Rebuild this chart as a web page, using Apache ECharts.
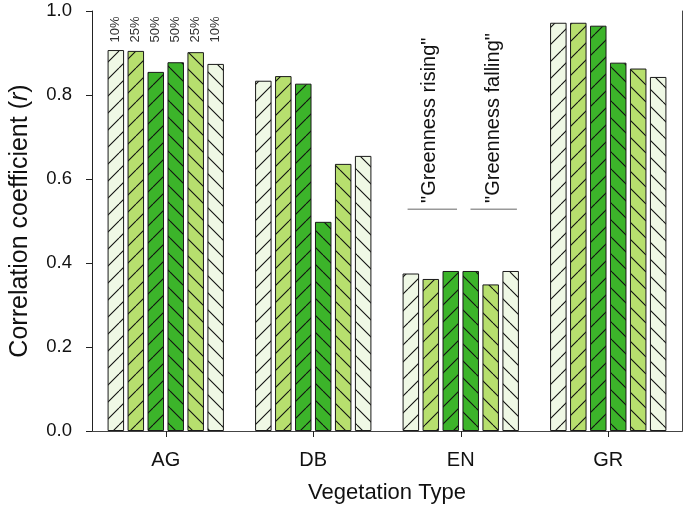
<!DOCTYPE html>
<html>
<head>
<meta charset="utf-8">
<script src="https://cdn.jsdelivr.net/npm/echarts/dist/echarts.min.js"></script>
<style>html,body{margin:0;padding:0;background:#fff}#c{width:685px;height:513px}</style>
</head>
<body>
<div id="c"></div>
<script>
// ---- data ----
var categories = ['AG', 'DB', 'EN', 'GR'];
var seriesNames = ['10% rising', '25% rising', '50% rising', '50% falling', '25% falling', '10% falling'];
var pctLabels = ['10%', '25%', '50%', '50%', '25%', '10%'];
var rising10 = [0.907, 0.834, 0.375, 0.972];
var rising25 = [0.905, 0.845, 0.362, 0.972];
var rising50 = [0.855, 0.827, 0.381, 0.965];
var falling50 = [0.878, 0.498, 0.381, 0.877];
var falling25 = [0.902, 0.636, 0.349, 0.863];
var falling10 = [0.874, 0.655, 0.381, 0.843];
var yTicks = [0, 0.2, 0.4, 0.6, 0.8, 1.0];
var annotations = ['"Greenness rising"', '"Greenness falling"'];

var seriesValues = [rising10, rising25, rising50, falling50, falling25, falling10];
var PALE = '#eff8e5', MID = '#b7df6e', DARK = '#3cb42a';
var fills = [PALE, MID, DARK, DARK, MID, PALE];
var dirs = ['/', '/', '/', '\\', '\\', '\\'];

function hatch(bg, dir) {
  var s = 17;
  var c = document.createElement('canvas');
  c.width = s; c.height = s;
  var ctx = c.getContext('2d');
  ctx.fillStyle = bg;
  ctx.fillRect(0, 0, s, s);
  ctx.strokeStyle = '#111';
  ctx.lineWidth = 1.1;
  ctx.beginPath();
  for (var k = -1; k <= 1; k++) {
    if (dir === '/') { ctx.moveTo(k * s, s); ctx.lineTo(k * s + s, 0); }
    else { ctx.moveTo(k * s, 0); ctx.lineTo(k * s + s, s); }
  }
  ctx.stroke();
  return { image: c, repeat: 'repeat' };
}

var chart = echarts.init(document.getElementById('c'));
var FONT = 'Liberation Sans, Arial, sans-serif';

var series = seriesValues.map(function (vals, i) {
  return {
    name: seriesNames[i],
    type: 'bar',
    xAxisIndex: 0,
    yAxisIndex: 0,
    data: vals,
    barWidth: 16.5,
    barGap: '21%',
    itemStyle: { color: hatch(fills[i], dirs[i]), borderColor: '#1a1a1a', borderWidth: 1 },
    emphasis: { disabled: true },
    animation: false
  };
});

chart.setOption({
  animation: false,
  grid: { left: 82, right: 3, top: 11, bottom: 82 },
  xAxis: [{
    type: 'category', data: categories, position: 'bottom',
    axisLine: { show: true, lineStyle: { color: '#222', width: 1 } },
    axisTick: { show: true, alignWithLabel: true, length: 6, lineStyle: { color: '#222' } },
    axisLabel: { fontSize: 20, color: '#111', margin: 19, fontFamily: FONT },
    name: 'Vegetation Type', nameLocation: 'middle', nameGap: 51,
    nameTextStyle: { fontSize: 22, color: '#111', fontFamily: FONT }
  }, {
    type: 'category', data: categories, position: 'top',
    axisLine: { show: true, lineStyle: { color: '#444', width: 1 } },
    axisTick: { show: false }, axisLabel: { show: false }
  }],
  yAxis: [{
    type: 'value', min: 0, max: 1, interval: 0.2, position: 'left',
    axisLine: { show: true, lineStyle: { color: '#222', width: 1 } },
    axisTick: { show: true, length: 6, lineStyle: { color: '#222' } },
    splitLine: { show: false },
    axisLabel: { fontSize: 18.5, color: '#111', margin: 20, fontFamily: FONT,
      formatter: function (v) { return v.toFixed(1); } },
    name: 'Correlation coefficient ({i|r})', nameLocation: 'middle', nameGap: 59,
    nameTextStyle: { fontSize: 25, color: '#111', fontFamily: FONT,
      rich: { i: { fontSize: 25, fontStyle: 'italic', color: '#111', fontFamily: FONT } } }
  }, {
    type: 'value', min: 0, max: 1, interval: 0.2, position: 'right',
    axisLine: { show: true, lineStyle: { color: '#444', width: 1 } },
    axisTick: { show: false }, axisLabel: { show: false }, splitLine: { show: false }
  }],
  series: series
});

// ---- annotations positioned from the laid-out bars ----
function barLayout(si, ci) {
  return chart.getModel().getSeriesByIndex(si).getData().getItemLayout(ci);
}
var graphics = [];
var yPct = chart.convertToPixel({ yAxisIndex: 0 }, 0.925);
for (var i = 0; i < 6; i++) {
  var L = barLayout(i, 0);
  graphics.push({
    type: 'text', x: L.x + L.width / 2, y: yPct, rotation: Math.PI / 2,
    style: { text: pctLabels[i], fontSize: 13, fill: '#333', fontFamily: FONT, align: 'left', verticalAlign: 'middle' },
    silent: true
  });
}
var en = categories.indexOf('EN');
var yTxt = chart.convertToPixel({ yAxisIndex: 0 }, 0.543);
var yLine = chart.convertToPixel({ yAxisIndex: 0 }, 0.528);
var groups = [[0, 2], [3, 5]];
groups.forEach(function (g, k) {
  var a = barLayout(g[0], en), b = barLayout(g[1], en);
  var mid = barLayout(g[0] + 1, en);
  graphics.push({
    type: 'text', x: mid.x + mid.width / 2 + (k === 0 ? -1 : 3), y: yTxt, rotation: Math.PI / 2,
    style: { text: annotations[k], fontSize: 20, fill: '#111', fontFamily: FONT, align: 'left', verticalAlign: 'middle' },
    silent: true
  });
  graphics.push({
    type: 'line',
    shape: { x1: a.x + (k === 0 ? 5 : 8), y1: yLine, x2: b.x + b.width - 2, y2: yLine },
    style: { stroke: '#999', lineWidth: 1.5 },
    silent: true
  });
});
chart.setOption({ graphic: graphics });
</script>
</body>
</html>
